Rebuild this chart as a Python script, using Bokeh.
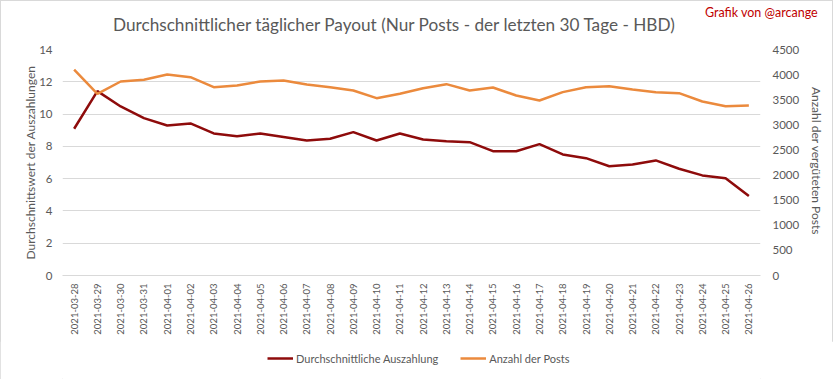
import math
from bokeh.plotting import figure
from bokeh.layouts import column
from bokeh.models import Range1d, LinearAxis, Legend, LegendItem, FixedTicker, Div
from bokeh.embed import file_html
from bokeh.resources import INLINE

dates = ["2021-03-28", "2021-03-29", "2021-03-30", "2021-03-31", "2021-04-01",
         "2021-04-02", "2021-04-03", "2021-04-04", "2021-04-05", "2021-04-06",
         "2021-04-07", "2021-04-08", "2021-04-09", "2021-04-10", "2021-04-11",
         "2021-04-12", "2021-04-13", "2021-04-14", "2021-04-15", "2021-04-16",
         "2021-04-17", "2021-04-18", "2021-04-19", "2021-04-20", "2021-04-21",
         "2021-04-22", "2021-04-23", "2021-04-24", "2021-04-25", "2021-04-26"]
payout = [9.09, 11.42, 10.47, 9.75, 9.29, 9.42, 8.80, 8.63, 8.80, 8.58,
          8.36, 8.47, 8.88, 8.36, 8.80, 8.43, 8.32, 8.26, 7.70, 7.70,
          8.14, 7.50, 7.27, 6.77, 6.88, 7.13, 6.61, 6.20, 6.03, 4.92]
posts = [4097, 3618, 3863, 3897, 4002, 3949, 3750, 3783, 3863, 3883,
         3803, 3750, 3684, 3531, 3618, 3730, 3810, 3684, 3744, 3584,
         3485, 3651, 3750, 3770, 3704, 3651, 3631, 3465, 3372, 3385]
left_ticks = [0, 2, 4, 6, 8, 10, 12, 14]
right_ticks = [0, 500, 1000, 1500, 2000, 2500, 3000, 3500, 4000, 4500]
series_names = ["Durchschnittliche Auszahlung", "Anzahl der Posts"]
title_text = "Durchschnittlicher täglicher Payout (Nur Posts - der letzten 30 Tage - HBD)"
credit_text = "Grafik von @arcange"

FONT = "Lato"
GREY = "#595959"
RED = "#8E0B0B"
ORANGE = "#EB8A3D"
W = 833
HEAD_H = 39
TOP_B = 10
MAIN_H = 302
FOOT_H = 379 - HEAD_H - MAIN_H

# header: title and credit as real HTML text
header_html = (
    '<div style="position:relative;width:%dpx;height:%dpx;">'
    '<span style="position:absolute;left:113px;top:15px;font-family:Lato;'
    'font-size:17.2px;line-height:20px;color:%s;white-space:nowrap;">%s</span>'
    '<span style="position:absolute;left:705px;top:5px;font-family:Lato;'
    'font-size:12.5px;line-height:15px;color:#C00000;white-space:nowrap;">%s</span>'
    '</div>' % (W, HEAD_H, GREY, title_text, credit_text)
)
h = Div(text=header_html, width=W, height=HEAD_H, margin=0,
        styles={"overflow": "visible", "z-index": "2"})

# main chart
p = figure(width=W, height=MAIN_H, x_range=dates, y_range=Range1d(0, 14),
           output_backend="svg", toolbar_location=None,
           min_border_left=62, min_border_right=73, min_border_top=TOP_B,
           min_border_bottom=66)
p.extra_y_ranges = {"posts": Range1d(0, 4500)}
p.outline_line_color = None
p.background_fill_alpha = 0
p.border_fill_alpha = 0

p.line(dates, payout, line_color=RED, line_width=2.5)
p.line(dates, posts, line_color=ORANGE, line_width=2.5, y_range_name="posts")

ya = p.yaxis[0]
ya.ticker = FixedTicker(ticks=left_ticks)
ya.axis_label = "Durchschnittswert der Auszahlungen"
ya.axis_line_color = None
ya.major_tick_line_color = None
ya.minor_tick_line_color = None
ya.major_tick_out = 0
ya.minor_tick_out = 0
ya.major_label_standoff = 10
ya.axis_label_standoff = -2
ya.major_label_text_font = FONT
ya.major_label_text_font_size = "11.5px"
ya.major_label_text_color = GREY
ya.axis_label_text_font = FONT
ya.axis_label_text_font_size = "12px"
ya.axis_label_text_font_style = "normal"
ya.axis_label_text_color = GREY

ra = LinearAxis(y_range_name="posts", ticker=FixedTicker(ticks=right_ticks),
                axis_label="Anzahl der vergüteten  Posts")
ra.axis_line_color = None
ra.major_tick_line_color = None
ra.minor_tick_line_color = None
ra.major_tick_out = 0
ra.minor_tick_out = 0
ra.major_label_standoff = 12
ra.axis_label_standoff = 7
ra.major_label_text_font = FONT
ra.major_label_text_font_size = "11.5px"
ra.major_label_text_color = GREY
ra.axis_label_text_font = FONT
ra.axis_label_text_font_size = "12px"
ra.axis_label_text_font_style = "normal"
ra.axis_label_text_color = GREY
p.add_layout(ra, "right")

xa = p.xaxis[0]
xa.major_label_orientation = math.pi / 2
xa.axis_line_color = "#D9D9D9"
xa.major_tick_line_color = None
xa.minor_tick_line_color = None
xa.major_tick_out = 0
xa.minor_tick_out = 0
xa.major_label_standoff = 8
xa.major_label_text_font = FONT
xa.major_label_text_font_size = "9.5px"
xa.major_label_text_color = GREY

p.xgrid.grid_line_color = None
p.ygrid.grid_line_color = "#D9D9D9"
p.ygrid.ticker = FixedTicker(ticks=left_ticks)

# footer with legend (its lines hold no visible data, only the series styles)
f = figure(width=W, height=FOOT_H, x_range=Range1d(0, W), y_range=Range1d(0, FOOT_H),
           output_backend="svg", toolbar_location=None,
           x_axis_type=None, y_axis_type=None,
           min_border_left=0, min_border_right=0, min_border_top=0, min_border_bottom=0)
f.outline_line_color = None
f.grid.visible = False
nan = float("nan")
l1 = f.line([nan], [nan], line_color=RED, line_width=2.5)
l2 = f.line([nan], [nan], line_color=ORANGE, line_width=2.5)
legend = Legend(items=[LegendItem(label=series_names[0], renderers=[l1]),
                       LegendItem(label=series_names[1], renderers=[l2])],
                location=(205, 14), orientation="horizontal")
legend.background_fill_alpha = 0
legend.border_line_alpha = 0
legend.padding = 0
legend.margin = 0
legend.glyph_width = 26
legend.glyph_height = 14
legend.label_standoff = 3
legend.spacing = 22
legend.label_text_font = FONT
legend.label_text_font_size = "11px"
legend.label_text_color = GREY
f.add_layout(legend)

layout = column(h, p, f, spacing=0,
                styles={"outline": "1px solid #D9D9D9", "outline-offset": "-1px"})

open("out.html", "w").write(file_html(layout, INLINE))
